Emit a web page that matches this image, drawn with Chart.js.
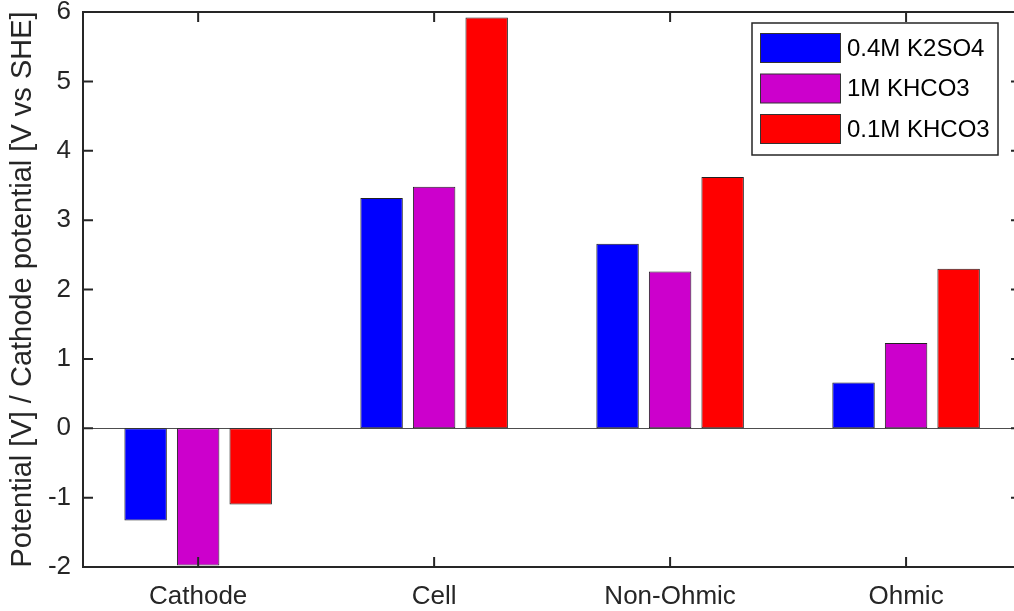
<!DOCTYPE html>
<html>
<head>
<meta charset="utf-8">
<script src="https://cdn.jsdelivr.net/npm/chart.js@4.4.0/dist/chart.umd.min.js"></script>
<style>
  html, body { margin: 0; padding: 0; background: #fff; overflow: hidden; }
  #wrap { width: 1014px; height: 611px; overflow: hidden; }
</style>
</head>
<body>
<div id="wrap"><canvas id="bars" width="1030" height="611"></canvas></div>
<script>
// categories and series
const categories = ['Cathode', 'Cell', 'Non-Ohmic', 'Ohmic'];
const seriesNames = ['0.4M K2SO4', '1M KHCO3', '0.1M KHCO3'];
const k2so4 = [-1.33, 3.32, 2.66, 0.66];
const khco3_1M = [-1.98, 3.48, 2.26, 1.23];
const khco3_01M = [-1.10, 5.92, 3.62, 2.30];
const yTicks = [-2, -1, 0, 1, 2, 3, 4, 5, 6];

const colors = ['#0000FF', '#CC00CC', '#FF0000'];
const axisColor = '#262626';
const FONT = 'Liberation Sans, Arial, Helvetica, sans-serif';

// axes box with inward ticks, zero baseline and legend
const matlabAxes = {
    id: 'matlabAxes',
    beforeDatasetsDraw(chart) {
        const { ctx, chartArea: a, scales } = chart;
        const y0 = Math.round(scales.y.getPixelForValue(0)) + 0.5;
        ctx.save();
        ctx.strokeStyle = '#4d4d4d';
        ctx.lineWidth = 1;
        ctx.beginPath();
        ctx.moveTo(a.left, y0);
        ctx.lineTo(a.right, y0);
        ctx.stroke();
        ctx.restore();
    },
    afterDatasetsDraw(chart) {
        const { ctx, chartArea: a, scales } = chart;
        const tl = 10;
        ctx.save();
        ctx.strokeStyle = axisColor;
        ctx.lineWidth = 2;
        ctx.strokeRect(a.left, a.top, a.right - a.left, a.bottom - a.top);
        ctx.beginPath();
        yTicks.forEach(v => {
            const py = scales.y.getPixelForValue(v);
            ctx.moveTo(a.left, py); ctx.lineTo(a.left + tl, py);
            ctx.moveTo(a.right, py); ctx.lineTo(a.right - tl, py);
        });
        categories.forEach((c, i) => {
            const px = scales.x.getPixelForValue(i + 1);
            ctx.moveTo(px, a.bottom); ctx.lineTo(px, a.bottom - tl);
            ctx.moveTo(px, a.top); ctx.lineTo(px, a.top + tl);
        });
        ctx.stroke();

        // legend
        const lx = 752, ly = 23, lw = 246, lh = 132;
        ctx.fillStyle = '#fff';
        ctx.fillRect(lx, ly, lw, lh);
        ctx.lineWidth = 1.5;
        ctx.strokeRect(lx, ly, lw, lh);
        ctx.font = '24px ' + FONT;
        ctx.textBaseline = 'middle';
        chart.data.datasets.forEach((ds, i) => {
            const sy = 33 + i * 40.5;
            ctx.fillStyle = ds.backgroundColor;
            ctx.fillRect(760.5, sy + 0.5, 80, 29);
            ctx.lineWidth = 1;
            ctx.strokeStyle = '#333';
            ctx.strokeRect(760.5, sy + 0.5, 80, 29);
            ctx.fillStyle = '#000';
            ctx.fillText(ds.label, 847, sy + 16);
        });
        ctx.restore();
    }
};

const seriesValues = [k2so4, khco3_1M, khco3_01M];

new Chart(document.getElementById('bars'), {
    type: 'bar',
    data: {
        datasets: seriesNames.map((name, i) => ({
            label: name,
            data: seriesValues[i].map((v, j) => ({ x: j + 1, y: v })),
            backgroundColor: colors[i],
            borderColor: '#222',
            borderWidth: 1,
            borderSkipped: false,
            barPercentage: 0.808,
            categoryPercentage: 0.668
        }))
    },
    options: {
        responsive: false,
        animation: false,
        devicePixelRatio: 1,
        layout: { padding: { top: 12, right: 9, left: 0, bottom: 0 } },
        plugins: {
            legend: { display: false },
            tooltip: { enabled: false }
        },
        scales: {
            x: {
                type: 'linear',
                offset: false,
                min: 0.512,
                max: 4.487,
                afterBuildTicks(s) { s.ticks = categories.map((c, i) => ({ value: i + 1 })); },
                grid: { display: false, offset: false },
                border: { display: false },
                ticks: {
                    autoSkip: false,
                    maxRotation: 0,
                    color: '#262626',
                    font: { family: FONT, size: 26 },
                    padding: 6,
                    callback: v => categories[v - 1]
                },
                afterFit(s) { s.height = 44; s.paddingLeft = 0; s.paddingRight = 0; }
            },
            y: {
                min: -2,
                max: 6,
                afterBuildTicks(s) { s.ticks = yTicks.map(v => ({ value: v })); },
                grid: { display: false },
                border: { display: false },
                ticks: { color: '#262626', font: { family: FONT, size: 26 }, padding: 4 },
                title: {
                    display: true,
                    text: 'Potential [V] / Cathode potential [V vs SHE]',
                    color: '#262626',
                    font: { family: FONT, size: 29 },
                    padding: { top: 6, bottom: 0 }
                },
                afterFit(s) { s.width = 83; s.paddingTop = 0; s.paddingBottom = 0; }
            }
        }
    },
    plugins: [matlabAxes]
});
</script>
</body>
</html>
